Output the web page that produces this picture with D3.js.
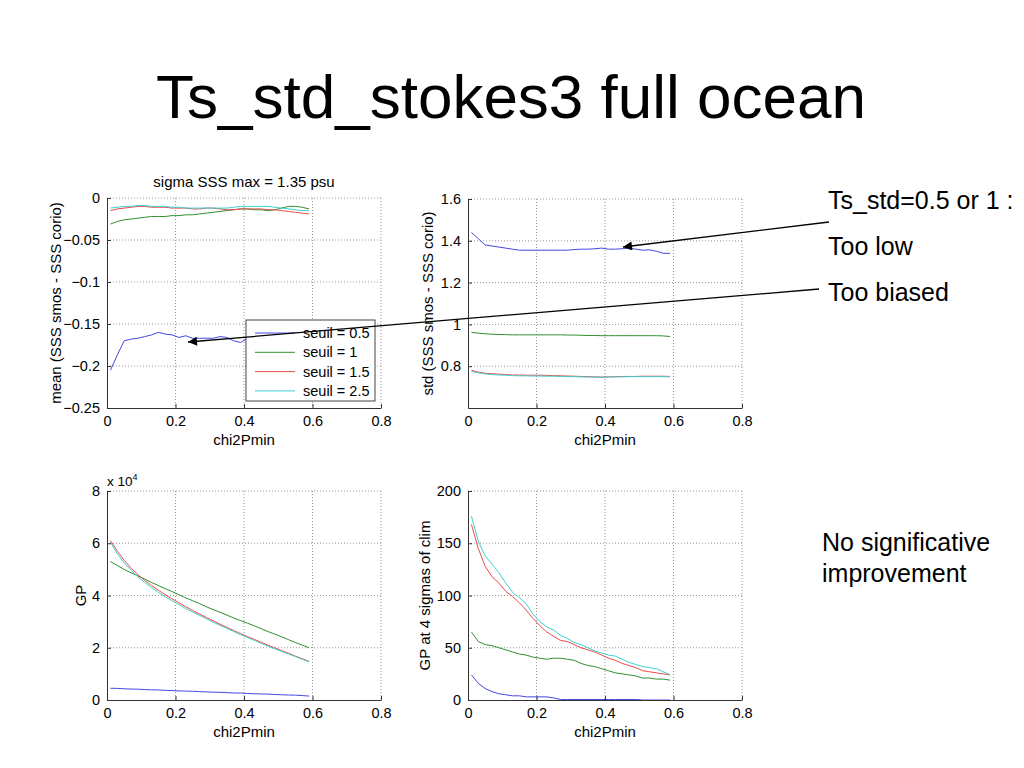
<!DOCTYPE html>
<html>
<head>
<meta charset="utf-8">
<script src="https://cdn.jsdelivr.net/npm/d3@7"></script>
<style>
  body { margin: 0; background: #fff; }
  svg { font-family: "Liberation Sans", Arial, sans-serif; }
  .grid line { stroke: #999; stroke-dasharray: 1, 2; }
  .axis path, .axis line { stroke: #333; }
  .axis text { font-size: 14.5px; fill: #000; }
</style>
</head>
<body>
<svg id="chart" width="1024" height="768"></svg>
<script>
const chi2Pmin = [0.01, 0.03, 0.05, 0.07, 0.09, 0.11, 0.13, 0.15, 0.17, 0.19, 0.21, 0.23, 0.25, 0.27, 0.29,
  0.31, 0.33, 0.35, 0.37, 0.39, 0.41, 0.43, 0.45, 0.47, 0.49, 0.51, 0.53, 0.55, 0.57, 0.59];

const seuilNames = ["seuil = 0.5", "seuil = 1", "seuil = 1.5", "seuil = 2.5"];
const seuilColors = ["#4646e0", "#2f8f2f", "#ea4a4a", "#3fcfcf"];

// mean (SSS smos - SSS corio)
const meanBias = [
  [-0.205, -0.187, -0.170, -0.168, -0.167, -0.165, -0.163, -0.160, -0.162, -0.163, -0.166, -0.164, -0.167, -0.167, -0.167,
   -0.167, -0.165, -0.166, -0.170, -0.172, -0.167, -0.164, -0.163, -0.163, -0.162, -0.162, -0.161, -0.162, -0.162, -0.163],
  [-0.031, -0.028, -0.026, -0.025, -0.024, -0.023, -0.022, -0.022, -0.022, -0.021, -0.021, -0.020, -0.020, -0.019, -0.018,
   -0.017, -0.016, -0.015, -0.014, -0.013, -0.013, -0.014, -0.014, -0.015, -0.014, -0.012, -0.010, -0.010, -0.011, -0.013],
  [-0.015, -0.013, -0.012, -0.011, -0.010, -0.010, -0.011, -0.011, -0.011, -0.012, -0.012, -0.012, -0.013, -0.013, -0.012,
   -0.012, -0.013, -0.014, -0.014, -0.013, -0.013, -0.013, -0.013, -0.014, -0.014, -0.015, -0.016, -0.017, -0.018, -0.019],
  [-0.012, -0.011, -0.010, -0.010, -0.009, -0.009, -0.010, -0.010, -0.010, -0.011, -0.011, -0.012, -0.012, -0.012, -0.012,
   -0.012, -0.012, -0.012, -0.011, -0.010, -0.010, -0.010, -0.010, -0.010, -0.011, -0.012, -0.013, -0.014, -0.015, -0.015],
];

// std (SSS smos - SSS corio)
const stdDev = [
  [1.44, 1.41, 1.38, 1.375, 1.37, 1.365, 1.36, 1.355, 1.355, 1.355, 1.355, 1.355, 1.355, 1.355, 1.355,
   1.358, 1.36, 1.36, 1.362, 1.365, 1.36, 1.36, 1.362, 1.365, 1.36, 1.355, 1.357, 1.35, 1.34, 1.34],
  [0.962, 0.958, 0.955, 0.953, 0.952, 0.951, 0.950, 0.950, 0.950, 0.950, 0.950, 0.950, 0.950, 0.950, 0.949,
   0.949, 0.948, 0.947, 0.947, 0.946, 0.946, 0.946, 0.946, 0.946, 0.946, 0.946, 0.946, 0.946, 0.945, 0.942],
  [0.780, 0.772, 0.766, 0.764, 0.762, 0.760, 0.758, 0.758, 0.757, 0.757, 0.757, 0.756, 0.755, 0.754, 0.753,
   0.752, 0.751, 0.750, 0.749, 0.748, 0.749, 0.750, 0.751, 0.751, 0.751, 0.752, 0.752, 0.752, 0.752, 0.751],
  [0.776, 0.768, 0.763, 0.760, 0.758, 0.757, 0.755, 0.754, 0.754, 0.753, 0.753, 0.752, 0.752, 0.751, 0.750,
   0.750, 0.749, 0.748, 0.748, 0.747, 0.748, 0.749, 0.749, 0.750, 0.750, 0.750, 0.750, 0.750, 0.750, 0.749],
];

// GP
const gpCount = [
  [4500, 4450, 4300, 4200, 4150, 4000, 3900, 3850, 3700, 3600, 3500, 3400, 3350, 3200, 3100,
   3000, 2950, 2800, 2700, 2650, 2500, 2400, 2300, 2250, 2100, 2000, 1900, 1850, 1700, 1500],
  [53000, 51500, 50000, 48700, 47500, 46300, 45000, 43800, 42600, 41500, 40300, 39100, 38000, 36900, 35700,
   34600, 33600, 32500, 31400, 30400, 29400, 28400, 27300, 26200, 25200, 24200, 23100, 22000, 21000, 20000],
  [61000, 57000, 53500, 50500, 48000, 45800, 43800, 42000, 40300, 38700, 37200, 35700, 34300, 32900, 31600,
   30300, 29000, 27800, 26600, 25400, 24300, 23200, 22100, 21000, 20000, 18900, 17900, 16800, 15800, 14800],
  [60500, 56000, 52500, 49700, 47200, 45000, 43000, 41200, 39500, 38000, 36500, 35000, 33700, 32400, 31100,
   29800, 28600, 27400, 26200, 25000, 23900, 22800, 21700, 20600, 19600, 18600, 17600, 16600, 15600, 14600],
];

// GP at 4 sigmas of clim
const gp4Sigma = [
  [24, 16, 11, 8, 6, 5, 4, 4, 3, 3, 3, 3, 2, 0.5, 0.5, 0.5, 0.5, 0.5, 0.5, 0.5, 0.5, 0.5, 0.5, 0.5, 0.5, 0, 0, 0, 0, 0],
  [65, 56, 53, 52, 50, 48, 46, 44, 43, 41, 40, 39, 40, 40, 39, 38, 35, 33, 32, 30, 28, 26, 25, 24, 23, 21, 21, 20, 20, 19],
  [168, 145, 128, 118, 112, 104, 99, 93, 86, 78, 71, 65, 61, 57, 56, 53, 50, 48, 46, 43, 40, 38, 35, 33, 31, 28, 27, 26, 25, 24],
  [176, 152, 138, 130, 122, 112, 103, 98, 92, 82, 75, 70, 67, 62, 59, 55, 53, 50, 47, 45, 43, 42, 39, 36, 34, 32, 31, 30, 27, 24],
];

const xTicks = [0, 0.2, 0.4, 0.6, 0.8];

const svg = d3.select("#chart");

svg.append("text")
  .attr("x", 511).attr("y", 118)
  .attr("text-anchor", "middle")
  .attr("font-size", 62)
  .text("Ts_std_stokes3 full ocean");

// Draw one MATLAB-like panel
function panel({ box, yDomain, yTicks, yFormat, series, yLabel, yLabelX, title }) {
  const x = d3.scaleLinear().domain([0, 0.8]).range([box.left, box.right]);
  const y = d3.scaleLinear().domain(yDomain).range([box.bottom, box.top]);
  const g = svg.append("g");

  // grid
  const grid = g.append("g").attr("class", "grid");
  grid.selectAll(".vx").data(xTicks.filter((d) => d > 0)).join("line")
    .attr("x1", (d) => x(d)).attr("x2", (d) => x(d))
    .attr("y1", box.top).attr("y2", box.bottom);
  grid.selectAll(".hy").data(yTicks.filter((d) => d !== yDomain[0])).join("line")
    .attr("x1", box.left).attr("x2", box.right)
    .attr("y1", (d) => y(d)).attr("y2", (d) => y(d));

  // lines
  const line = d3.line().x((d, i) => x(chi2Pmin[i])).y((d) => y(d));
  g.selectAll(".series").data(series).join("path")
    .attr("fill", "none")
    .attr("stroke", (d, i) => seuilColors[i])
    .attr("stroke-width", 1)
    .attr("d", line);

  // axes
  g.append("g").attr("class", "axis")
    .attr("transform", `translate(0,${box.bottom})`)
    .call(d3.axisBottom(x).tickValues(xTicks).tickSizeInner(-4).tickSizeOuter(0).tickPadding(8).tickFormat(d3.format("~g")));
  g.append("g").attr("class", "axis")
    .attr("transform", `translate(${box.left},0)`)
    .call(d3.axisLeft(y).tickValues(yTicks).tickSizeInner(-4).tickSizeOuter(0).tickPadding(7).tickFormat(yFormat));

  g.append("text")
    .attr("x", (box.left + box.right) / 2).attr("y", box.bottom + 37)
    .attr("text-anchor", "middle").attr("font-size", 15)
    .text("chi2Pmin");

  g.append("text")
    .attr("transform", `translate(${yLabelX},${(box.top + box.bottom) / 2}) rotate(-90)`)
    .attr("text-anchor", "middle").attr("font-size", 15)
    .text(yLabel);

  if (title) {
    g.append("text")
      .attr("x", (box.left + box.right) / 2).attr("y", box.top - 11)
      .attr("text-anchor", "middle").attr("font-size", 15)
      .text(title);
  }
  return { x, y, g };
}

const fmt = d3.format("~g");

const p1 = panel({
  box: { left: 107, right: 381, top: 198, bottom: 408 },
  yDomain: [-0.25, 0], yTicks: [-0.25, -0.2, -0.15, -0.1, -0.05, 0], yFormat: fmt,
  series: meanBias, yLabel: "mean (SSS smos - SSS corio)", yLabelX: 61,
  title: "sigma SSS max = 1.35 psu",
});

panel({
  box: { left: 468, right: 742, top: 199, bottom: 408 },
  yDomain: [0.6, 1.6], yTicks: [0.8, 1, 1.2, 1.4, 1.6], yFormat: fmt,
  series: stdDev, yLabel: "std (SSS smos - SSS corio)", yLabelX: 433,
});

const p3 = panel({
  box: { left: 107, right: 381, top: 491, bottom: 700 },
  yDomain: [0, 80000], yTicks: [0, 20000, 40000, 60000, 80000], yFormat: (d) => fmt(d / 1e4),
  series: gpCount, yLabel: "GP", yLabelX: 86,
});
const mult = p3.g.append("text").attr("x", 107).attr("y", 486).attr("font-size", 13.5);
mult.append("tspan").text("x 10");
mult.append("tspan").attr("font-size", 9).attr("dy", -6).text("4");

panel({
  box: { left: 468, right: 742, top: 491, bottom: 700 },
  yDomain: [0, 200], yTicks: [0, 50, 100, 150, 200], yFormat: fmt,
  series: gp4Sigma, yLabel: "GP at 4 sigmas of clim", yLabelX: 430,
});

// legend in panel 1
const lg = p1.g.append("g").attr("transform", "translate(246,320)");
lg.append("rect").attr("width", 129).attr("height", 81)
  .attr("fill", "#fff").attr("stroke", "#444").attr("stroke-width", 1);
seuilNames.forEach((name, i) => {
  const yy = 13 + i * 19.3;
  lg.append("line").attr("x1", 9).attr("x2", 49).attr("y1", yy).attr("y2", yy)
    .attr("stroke", seuilColors[i]).attr("stroke-width", 1);
  lg.append("text").attr("x", 57).attr("y", yy + 5).attr("font-size", 14.5).text(name);
});

// annotations
svg.append("defs").append("marker")
  .attr("id", "head").attr("viewBox", "0 0 10 10")
  .attr("refX", 10).attr("refY", 5)
  .attr("markerWidth", 12).attr("markerHeight", 9).attr("markerUnits", "userSpaceOnUse")
  .attr("orient", "auto")
  .append("path").attr("d", "M0,0 L10,5 L0,10 z").attr("fill", "#000");

svg.append("line").attr("x1", 829).attr("y1", 222).attr("x2", 623).attr("y2", 247)
  .attr("stroke", "#000").attr("stroke-width", 1.3).attr("marker-end", "url(#head)");
svg.append("line").attr("x1", 819).attr("y1", 289).attr("x2", 188).attr("y2", 342)
  .attr("stroke", "#000").attr("stroke-width", 1.3).attr("marker-end", "url(#head)");

const notes = [
  { text: "Ts_std=0.5 or 1 :", x: 828, y: 209 },
  { text: "Too low", x: 828, y: 255 },
  { text: "Too biased", x: 828, y: 301 },
  { text: "No significative", x: 822, y: 551 },
  { text: "improvement", x: 822, y: 582 },
];
svg.selectAll(".note").data(notes).join("text")
  .attr("x", (d) => d.x).attr("y", (d) => d.y)
  .attr("font-size", 25)
  .text((d) => d.text);
</script>
</body>
</html>
